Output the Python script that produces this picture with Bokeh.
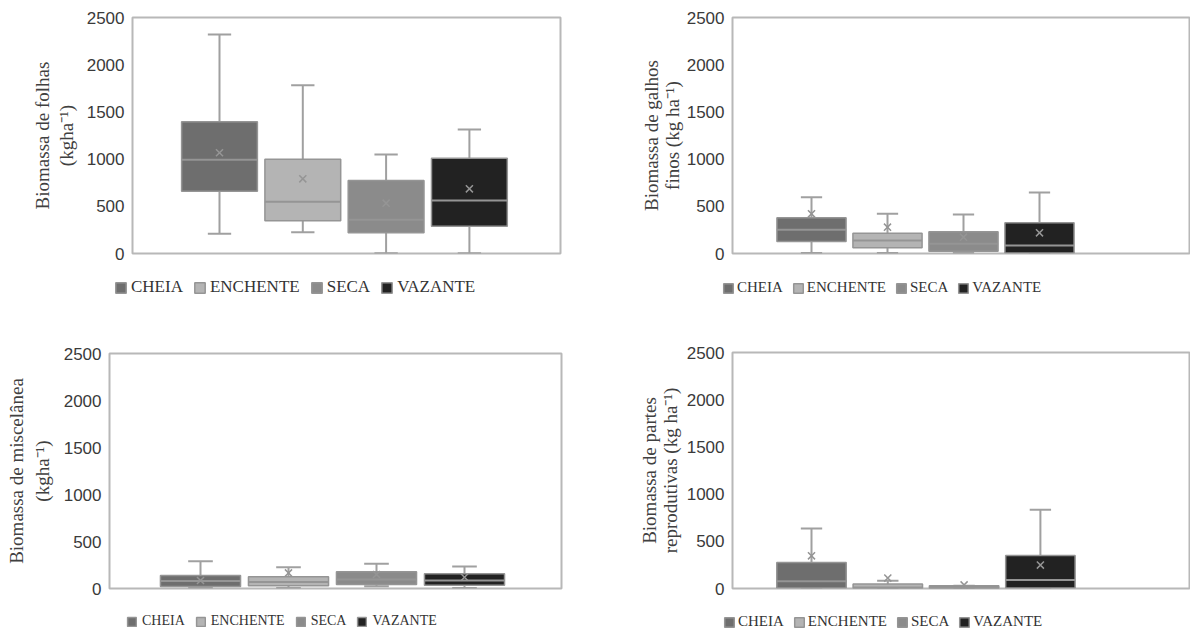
from bokeh.plotting import figure
from bokeh.models import Range1d, FixedTicker, Legend, LegendItem, ColumnDataSource
from bokeh.layouts import row, column
from bokeh.embed import file_html
from bokeh.resources import INLINE

categories = ["CHEIA", "ENCHENTE", "SECA", "VAZANTE"]
positions = [1, 2, 3, 4]
y_ticks = [0, 500, 1000, 1500, 2000, 2500]
y_max = 2500

# Biomassa de folhas
folhas_low = [208, 226, 3, 3]
folhas_q1 = [660, 346, 219, 289]
folhas_median = [992, 548, 357, 561]
folhas_q3 = [1395, 999, 773, 1010]
folhas_high = [2320, 1783, 1049, 1314]
folhas_mean = [1067, 791, 533, 685]

# Biomassa de galhos finos
galhos_low = [5, 5, 5, 5]
galhos_q1 = [127, 60, 25, 5]
galhos_median = [251, 138, 103, 85]
galhos_q3 = [378, 215, 230, 325]
galhos_high = [596, 420, 413, 646]
galhos_mean = [420, 279, 173, 219]

# Biomassa de miscelânea
misc_low = [7, 5, 25, 5]
misc_q1 = [21, 28, 43, 35]
misc_median = [80, 70, 96, 85]
misc_q3 = [138, 124, 177, 156]
misc_high = [291, 227, 262, 234]
misc_mean = [85, 166, 149, 120]

# Biomassa de partes reprodutivas
repro_low = [0, 0, 0, 0]
repro_q1 = [5, 3, 2, 5]
repro_median = [78, 10, 10, 89]
repro_q3 = [275, 47, 28, 350]
repro_high = [636, 82, 28, 834]
repro_mean = [346, 110, 38, 248]

fills = ["#6e6e6e", "#b4b4b4", "#8b8b8b", "#222222"]
LINE = "#959595"
WHISK = "#a0a0a0"
FRAME = "#b8b8b8"


def make_panel(low, q1, med, q3, high, mean, ylabel, g):
    fx0, fy0, fx1, fy1 = g["fig"]
    L, R, T, Z = g["box"]
    c1, step = g["c1"], g["step"]
    pb = Z + 12
    p = figure(frame_width=R - L, frame_height=Z - T,
               min_border_left=L - fx0, min_border_right=fx1 - R,
               min_border_top=T - fy0, min_border_bottom=pb - Z,
               x_range=Range1d(1 - (c1 - L) / step, 1 + (R - c1) / step),
               y_range=Range1d(0, y_max), frame_align=False,
               output_backend="svg", toolbar_location=None)
    p.xgrid.visible = False
    p.ygrid.visible = False
    p.xaxis.visible = False
    p.outline_line_color = FRAME
    p.outline_line_width = 2
    p.background_fill_color = "white"
    p.border_fill_color = "white"

    ax = p.yaxis[0]
    ax.ticker = FixedTicker(ticks=y_ticks)
    ax.axis_line_color = None
    ax.major_tick_line_color = None
    ax.minor_tick_line_color = None
    ax.major_tick_out = 0
    ax.major_tick_in = 0
    ax.minor_tick_out = 0
    ax.minor_tick_in = 0
    ax.major_label_text_font = "Liberation Sans"
    ax.major_label_text_font_size = "17px"
    ax.major_label_text_color = "#3a3a3a"
    ax.major_label_standoff = L - g["tick_right"]
    ax.axis_label = ylabel
    ax.axis_label_text_font = "Liberation Serif"
    ax.axis_label_text_font_style = "normal"
    ax.axis_label_text_font_size = "19px"
    ax.axis_label_text_color = "#404040"
    ax.axis_label_standoff = g["label_standoff"]
    ax.axis_label_text_line_height = g["label_lh"]

    bw = 0.91
    cw = 0.28
    src = ColumnDataSource(dict(
        x=positions, low=low, q1=q1, med=med, q3=q3, high=high, mean=mean,
        color=fills,
        left=[x - bw / 2 for x in positions], right=[x + bw / 2 for x in positions],
        cl=[x - cw / 2 for x in positions], cr=[x + cw / 2 for x in positions],
    ))
    p.segment(x0="x", y0="q3", x1="x", y1="high", source=src, line_color=WHISK, line_width=2)
    p.segment(x0="x", y0="low", x1="x", y1="q1", source=src, line_color=WHISK, line_width=2)
    p.segment(x0="cl", y0="high", x1="cr", y1="high", source=src, line_color=WHISK, line_width=2)
    p.segment(x0="cl", y0="low", x1="cr", y1="low", source=src, line_color=WHISK, line_width=2)
    p.vbar(x="x", width=bw, bottom="q1", top="q3", source=src,
           fill_color="color", line_color=LINE, line_width=1.5)
    p.segment(x0="left", y0="med", x1="right", y1="med", source=src, line_color=LINE, line_width=2)
    p.scatter(x="x", y="mean", source=src, marker="x", size=10, line_color=LINE, line_width=1.5)

    # legend strip below the chart (same series; renderer hidden, only the key shows)
    lf = figure(width=fx1 - fx0, height=fy1 - pb,
                min_border_left=0, min_border_right=0, min_border_top=0, min_border_bottom=0,
                x_axis_location=None, y_axis_location=None, frame_align=False,
                x_range=Range1d(0, 1), y_range=Range1d(0, 1),
                output_backend="svg", toolbar_location=None)
    lf.xgrid.visible = False
    lf.ygrid.visible = False
    lf.outline_line_color = None
    lf.background_fill_color = "white"
    lf.border_fill_color = "white"
    key = lf.vbar(x="x", width=bw, bottom="q1", top="q3", source=src,
                  fill_color="color", line_color=LINE, line_width=1.5)
    key.visible = False
    items = [LegendItem(label=c, renderers=[key], index=i) for i, c in enumerate(categories)]
    leg = Legend(items=items, orientation="horizontal",
                 location=(g["legend"][0] - fx0, g["legend"][1]),
                 glyph_width=g["glyph"], glyph_height=g["glyph"],
                 label_standoff=g["standoff"], spacing=g["spacing"],
                 padding=0, margin=0, border_line_color=None, background_fill_alpha=0,
                 inactive_fill_alpha=0,
                 label_text_font="Liberation Serif", label_text_font_size=g["legend_size"],
                 label_text_color="#333333", label_height=14)
    lf.add_layout(leg, "center")
    return column(p, lf)


g1 = dict(fig=(0, 0, 600, 315), box=(132, 560, 17, 253), c1=219, step=83.3,
          legend=(114, 18), tick_right=124, label_standoff=7, label_lh=1.14,
          legend_size="17px", glyph=13, standoff=4, spacing=10)
g2 = dict(fig=(600, 0, 1190, 315), box=(732, 1189, 17, 253), c1=811, step=76,
          legend=(722, 19), tick_right=724, label_standoff=1, label_lh=1.0,
          legend_size="15px", glyph=12, standoff=3, spacing=9)
g3 = dict(fig=(0, 315, 600, 630), box=(109, 561, 353, 588), c1=200, step=88,
          legend=(126, 1), tick_right=101, label_standoff=8, label_lh=1.24,
          legend_size="14px", glyph=11, standoff=5, spacing=10)
g4 = dict(fig=(600, 315, 1190, 630), box=(732, 1189, 352, 588), c1=811, step=76.3,
          legend=(723, 0), tick_right=724, label_standoff=3, label_lh=1.0,
          legend_size="15px", glyph=12, standoff=3, spacing=9)

c1_ = make_panel(folhas_low, folhas_q1, folhas_median, folhas_q3, folhas_high, folhas_mean,
                 "Biomassa de folhas\n(kgha\u207b\u00b9)", g1)
c2_ = make_panel(galhos_low, galhos_q1, galhos_median, galhos_q3, galhos_high, galhos_mean,
                 "Biomassa de galhos\nfinos (kg ha\u207b\u00b9)", g2)
c3_ = make_panel(misc_low, misc_q1, misc_median, misc_q3, misc_high, misc_mean,
                 "Biomassa de miscelânea\n(kgha\u207b\u00b9)", g3)
c4_ = make_panel(repro_low, repro_q1, repro_median, repro_q3, repro_high, repro_mean,
                 "Biomassa de partes\nreprodutivas (kg ha\u207b\u00b9)", g4)

layout = column(row(c1_, c2_), row(c3_, c4_))
open("out.html", "w").write(file_html(layout, INLINE))
